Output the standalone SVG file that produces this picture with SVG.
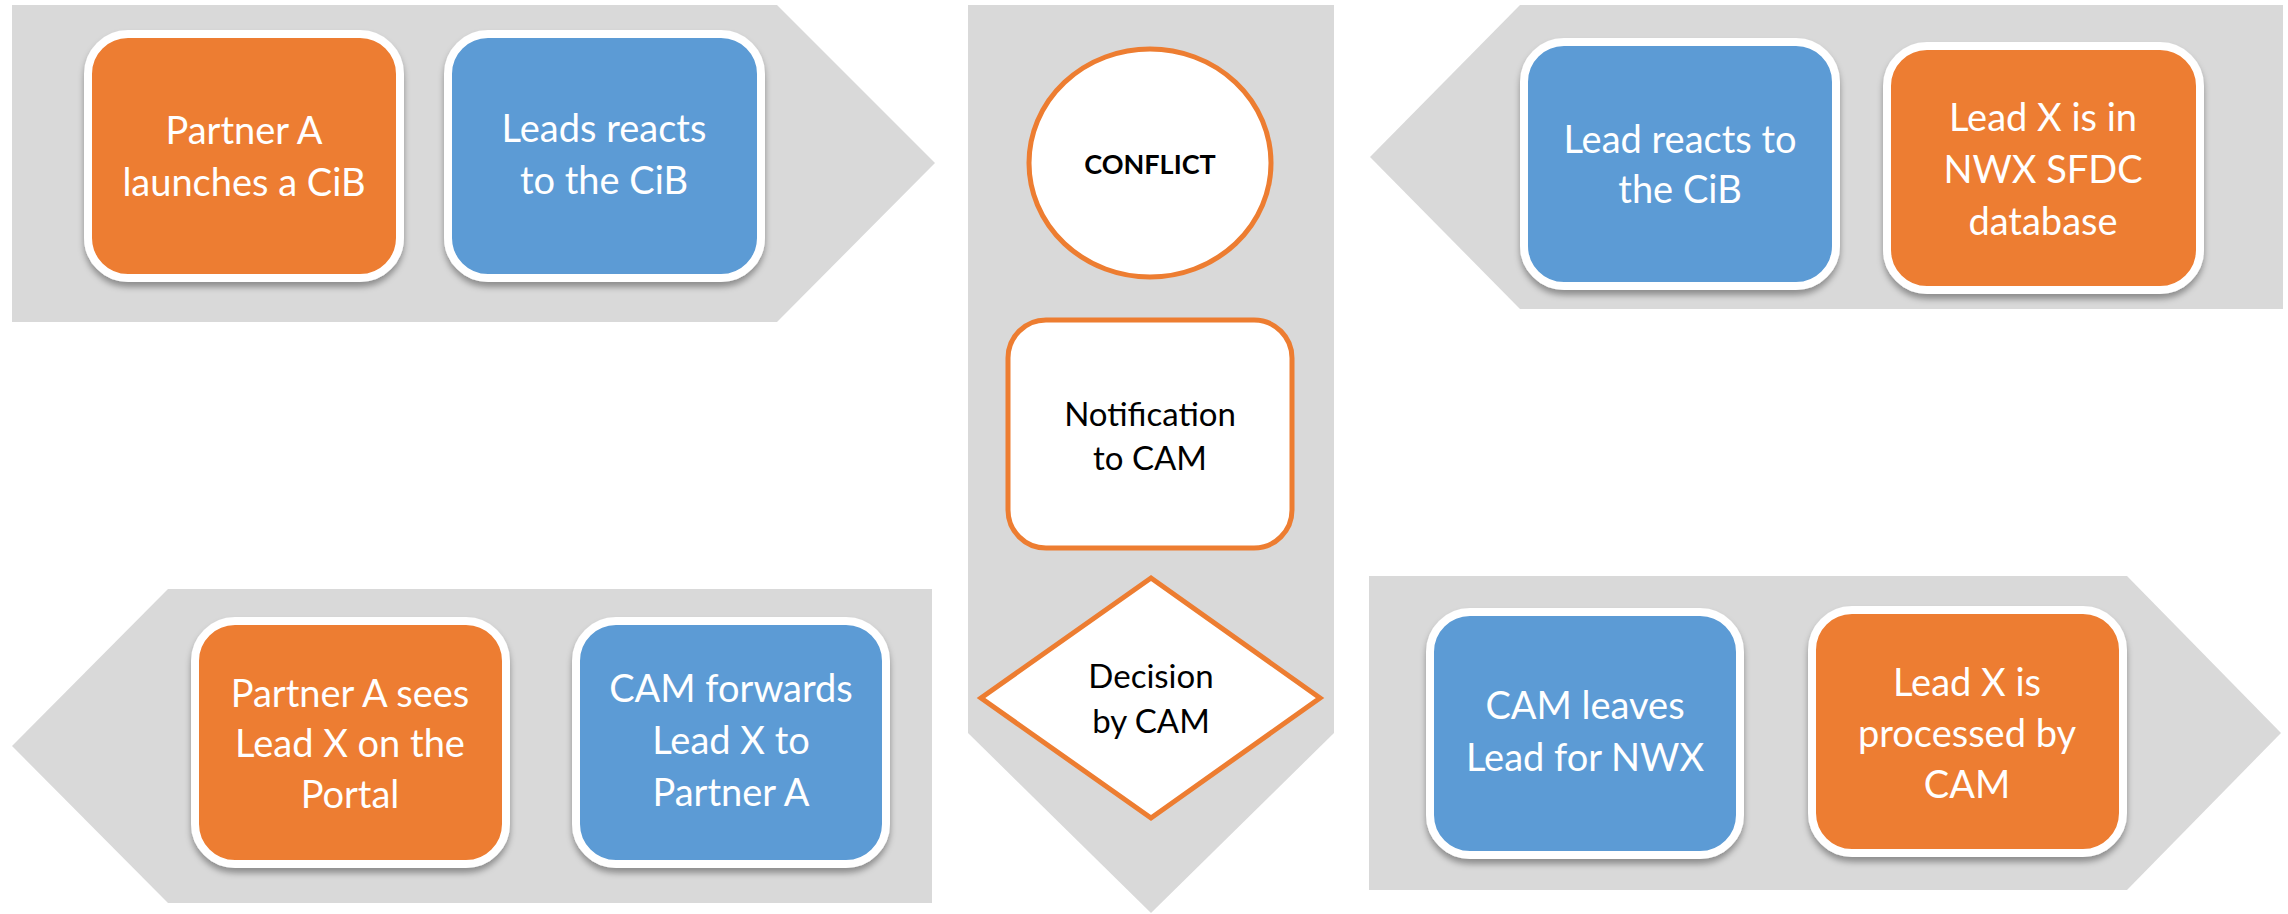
<svg xmlns="http://www.w3.org/2000/svg" width="2288" height="914" viewBox="0 0 2288 914">
<defs>
<filter id="sh" x="-10%" y="-10%" width="120%" height="125%">
<feDropShadow dx="0" dy="5" stdDeviation="3" flood-color="#000" flood-opacity="0.35"/>
</filter>
<style>
.band{fill:#D9D9D9}
.box{stroke:#FFFFFF;stroke-width:8;filter:url(#sh)}
.or{fill:#ED7D31}
.bl{fill:#5B9BD5}
.wt{fill:#FFFFFF;font-family:Lato,"Open Sans",sans-serif;font-size:38px;text-anchor:middle}
.ct{fill:#000000;font-family:Lato,"Open Sans",sans-serif;font-size:33px;text-anchor:middle}
.ctb{font-size:27px;font-weight:bold}
.cshape{fill:#FFFFFF;stroke:#ED7D31;stroke-width:5}
</style>
</defs>
<g id="bands">
<polygon class="band" points="12,5 777,5 935,163 777,322 12,322"/>
<polygon class="band" points="968,5 1334,5 1334,733 1151,913 968,733"/>
<polygon class="band" points="1520,5 2283,5 2283,309 1520,309 1370,157"/>
<polygon class="band" points="168,589 932,589 932,903 168,903 12,746"/>
<polygon class="band" points="1369,576 2127,576 2281,733 2127,890 1369,890"/>
</g>
<g id="connectors"></g>
<g id="n1">
<rect class="box or" x="88" y="34" width="312" height="244" rx="40"/>
<text class="wt" x="244" y="144">Partner A</text>
<text class="wt" x="244" y="196">launches a CiB</text>
</g>
<g id="n2">
<rect class="box bl" x="448" y="34" width="313" height="244" rx="40"/>
<text class="wt" x="604" y="142">Leads reacts</text>
<text class="wt" x="604" y="194">to the CiB</text>
</g>
<g id="n3">
<rect class="box bl" x="1524" y="42" width="312" height="244" rx="40"/>
<text class="wt" x="1680" y="153">Lead reacts to</text>
<text class="wt" x="1680" y="203">the CiB</text>
</g>
<g id="n4">
<rect class="box or" x="1887" y="46" width="313" height="244" rx="40"/>
<text class="wt" x="2043" y="131">Lead X is in</text>
<text class="wt" x="2043" y="183">NWX SFDC</text>
<text class="wt" x="2043" y="235">database</text>
</g>
<g id="n5">
<rect class="box or" x="195" y="621" width="311" height="243" rx="40"/>
<text class="wt" x="350" y="707">Partner A sees</text>
<text class="wt" x="350" y="757">Lead X on the</text>
<text class="wt" x="350" y="808">Portal</text>
</g>
<g id="n6">
<rect class="box bl" x="576" y="621" width="310" height="243" rx="40"/>
<text class="wt" x="731" y="702">CAM forwards</text>
<text class="wt" x="731" y="754">Lead X to</text>
<text class="wt" x="731" y="806">Partner A</text>
</g>
<g id="n7">
<rect class="box bl" x="1430" y="612" width="310" height="243" rx="40"/>
<text class="wt" x="1585" y="719">CAM leaves</text>
<text class="wt" x="1585" y="771">Lead for NWX</text>
</g>
<g id="n8">
<rect class="box or" x="1812" y="610" width="311" height="243" rx="40"/>
<text class="wt" x="1967" y="696">Lead X is</text>
<text class="wt" x="1967" y="747">processed by</text>
<text class="wt" x="1967" y="798">CAM</text>
</g>
<g id="conflict">
<ellipse class="cshape" cx="1150" cy="163" rx="121" ry="114"/>
<text class="ct ctb" x="1150" y="174">CONFLICT</text>
</g>
<g id="notification">
<rect class="cshape" x="1008" y="320" width="284" height="228" rx="38"/>
<text class="ct" x="1150" y="426">Notification</text>
<text class="ct" x="1150" y="470">to CAM</text>
</g>
<g id="decision">
<polygon class="cshape" points="1151,578 1320,698 1151,818 981,698"/>
<text class="ct" x="1151" y="688">Decision</text>
<text class="ct" x="1151" y="733">by CAM</text>
</g>
</svg>
